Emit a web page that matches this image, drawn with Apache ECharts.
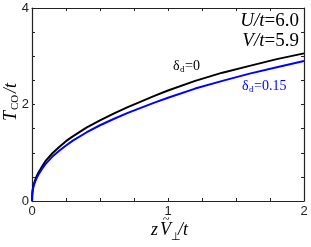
<!DOCTYPE html>
<html><head><meta charset="utf-8">
<script src="https://cdn.jsdelivr.net/npm/echarts@6/dist/echarts.min.js"></script>
<style>html,body{margin:0;padding:0;background:#fff}#c{width:311px;height:247px}</style>
</head><body><div id="c"></div>
<script>
const xValues = [0,0.001,0.002,0.005,0.01,0.02,0.035,0.05,0.075,0.1,0.15,0.2,0.25,0.3,0.4,0.5,0.6,0.7,0.8,0.9,1.0,1.2,1.4,1.6,1.8,2.0];
const delta0 = [0,0.10,0.15,0.23,0.31,0.41,0.52,0.60,0.72,0.83,0.99,1.12,1.24,1.34,1.52,1.67,1.81,1.94,2.06,2.18,2.29,2.49,2.66,2.80,2.94,3.06];
const delta015 = [0,0.09,0.14,0.21,0.29,0.38,0.48,0.56,0.67,0.77,0.92,1.04,1.15,1.25,1.42,1.57,1.70,1.82,1.93,2.04,2.14,2.33,2.49,2.64,2.77,2.90];
const xTickLabels = ['0','1','2'];
const yTickLabels = ['0','2','4'];

const chart = echarts.init(document.getElementById('c'), null, {renderer:'canvas'});
const serif = 'Liberation Serif, Times New Roman, serif';
const sans = 'Liberation Sans, Arial, sans-serif';
const axisCommon = {
  axisLine:{show:true, onZero:false, lineStyle:{color:'#222', width:1.2}},
  axisTick:{show:true, inside:true, length:3, lineStyle:{color:'#222', width:1}},
  splitLine:{show:false}
};
function lab(list){ return v => { const s = String(Math.round(v*100)/100); return list.includes(s) ? s : ''; }; }
chart.setOption({
  animation:false,
  grid:{left:32, top:8, right:7, bottom:46},
  xAxis:[
    Object.assign({type:'value', min:0, max:2, interval:0.25, position:'bottom',
      axisLabel:{show:true, formatter:lab(xTickLabels), color:'#222', fontFamily:sans, fontSize:13, margin:4, showMinLabel:true, showMaxLabel:true}}, axisCommon),
    Object.assign({type:'value', min:0, max:2, interval:0.25, position:'top', axisLabel:{show:false}}, axisCommon)
  ],
  yAxis:[
    Object.assign({type:'value', min:0, max:4, interval:0.5, position:'left',
      axisLabel:{show:true, formatter:lab(yTickLabels), color:'#222', fontFamily:sans, fontSize:13, margin:3}}, axisCommon),
    Object.assign({type:'value', min:0, max:4, interval:0.5, position:'right', axisLabel:{show:false}}, axisCommon)
  ],
  series:[
    {type:'line', xAxisIndex:0, yAxisIndex:0, data:xValues.map((x,i)=>[x,delta0[i]]), showSymbol:false, smooth:false,
     lineStyle:{color:'#000', width:2, join:'round'}},
    {type:'line', xAxisIndex:0, yAxisIndex:0, data:xValues.map((x,i)=>[x,delta015[i]]), showSymbol:false, smooth:false,
     lineStyle:{color:'#0000ff', width:2, join:'round'}}
  ],
  graphic:[
    {type:'text', x:299, y:21, style:{text:'{i|U/t}{r|=6.0}', align:'right', verticalAlign:'middle',
      rich:{i:{fontStyle:'italic', fontFamily:serif, fontSize:19, fill:'#000'}, r:{fontFamily:serif, fontSize:19, fill:'#000'}}}},
    {type:'text', x:299, y:41, style:{text:'{i|V/t}{r|=5.9}', align:'right', verticalAlign:'middle',
      rich:{i:{fontStyle:'italic', fontFamily:serif, fontSize:19, fill:'#000'}, r:{fontFamily:serif, fontSize:19, fill:'#000'}}}},
    {type:'text', x:173, y:66, style:{text:'δ', fontFamily:serif, fontSize:14, fill:'#000', verticalAlign:'middle'}},
    {type:'text', x:180, y:70, style:{text:'d', fontFamily:serif, fontSize:9, fill:'#000', verticalAlign:'middle'}},
    {type:'text', x:185, y:66, style:{text:'=0', fontFamily:serif, fontSize:14, fill:'#000', verticalAlign:'middle'}},
    {type:'text', x:242, y:86, style:{text:'δ', fontFamily:serif, fontSize:14, fill:'#0000ff', verticalAlign:'middle'}},
    {type:'text', x:249, y:90, style:{text:'d', fontFamily:serif, fontSize:9, fill:'#0000ff', verticalAlign:'middle'}},
    {type:'text', x:254, y:86, style:{text:'=0.15', fontFamily:serif, fontSize:14, fill:'#0000ff', verticalAlign:'middle'}},
    {type:'group', x:11, y:99, rotation:Math.PI/2, children:[
      {type:'text', x:-22, y:0, style:{text:'T', fontStyle:'italic', fontFamily:serif, fontSize:18, fill:'#000', verticalAlign:'middle'}},
      {type:'text', x:-11, y:4, style:{text:'CO', fontFamily:serif, fontSize:11, fill:'#000', verticalAlign:'middle'}},
      {type:'text', x:6, y:0, style:{text:'/t', fontStyle:'italic', fontFamily:serif, fontSize:18, fill:'#000', verticalAlign:'middle'}}
    ]},
    {type:'text', x:151, y:230, style:{text:'z', fontStyle:'italic', fontFamily:serif, fontSize:18, fill:'#000', verticalAlign:'middle'}},
    {type:'text', x:160, y:230, style:{text:'V', fontStyle:'italic', fontFamily:serif, fontSize:18, fill:'#000', verticalAlign:'middle'}},
    {type:'text', x:163, y:220, style:{text:'~', fontFamily:serif, fontSize:12, fill:'#000', verticalAlign:'middle'}},
    {type:'text', x:171, y:237, style:{text:'⊥', fontFamily:serif, fontSize:11, fill:'#000', verticalAlign:'middle'}},
    {type:'text', x:178, y:230, style:{text:'/t', fontStyle:'italic', fontFamily:serif, fontSize:18, fill:'#000', verticalAlign:'middle'}}
  ]
});
</script></body></html>
